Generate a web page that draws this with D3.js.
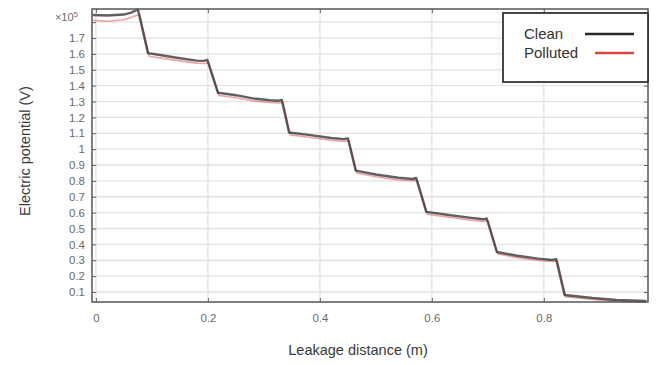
<!DOCTYPE html>
<html>
<head>
<meta charset="utf-8">
<script src="https://cdn.jsdelivr.net/npm/d3@7"></script>
<style>
  html, body { margin: 0; padding: 0; background: #fff; }
  svg { display: block; }
  text { font-family: "Liberation Sans", Arial, sans-serif; }
</style>
</head>
<body>
<svg id="chart" width="656" height="365"></svg>
<script>
// ---- data (potential in units of 1e5 V) ----
const seriesNames = ["Clean", "Polluted"];
const seriesColors = ["#2b2b2b", "#e04545"];
const cleanX = [-0.006, 0.02, 0.05, 0.063, 0.075, 0.093, 0.12, 0.15, 0.18, 0.193, 0.199, 0.218, 0.25, 0.28, 0.31, 0.326, 0.332, 0.345, 0.38, 0.42, 0.443, 0.45, 0.464, 0.5, 0.54, 0.565, 0.572, 0.59, 0.63, 0.67, 0.692, 0.698, 0.716, 0.75, 0.79, 0.815, 0.822, 0.837, 0.887, 0.93, 0.983];
const cleanV = [1.845, 1.842, 1.848, 1.86, 1.88, 1.605, 1.59, 1.573, 1.558, 1.556, 1.562, 1.355, 1.34, 1.32, 1.308, 1.305, 1.31, 1.105, 1.09, 1.07, 1.063, 1.068, 0.865, 0.84, 0.82, 0.812, 0.818, 0.605, 0.585, 0.567, 0.558, 0.563, 0.352, 0.33, 0.31, 0.302, 0.307, 0.081, 0.062, 0.05, 0.043];
const pollutedX = [-0.006, 0.02, 0.05, 0.065, 0.078, 0.095, 0.12, 0.15, 0.18, 0.195, 0.201, 0.22, 0.25, 0.28, 0.31, 0.328, 0.334, 0.347, 0.38, 0.42, 0.445, 0.452, 0.466, 0.5, 0.54, 0.567, 0.574, 0.592, 0.63, 0.67, 0.694, 0.7, 0.718, 0.75, 0.79, 0.817, 0.824, 0.839, 0.887, 0.93, 0.983];
const pollutedV = [1.812, 1.806, 1.815, 1.832, 1.85, 1.585, 1.572, 1.556, 1.542, 1.54, 1.546, 1.338, 1.324, 1.305, 1.294, 1.291, 1.296, 1.09, 1.075, 1.056, 1.049, 1.054, 0.85, 0.826, 0.806, 0.799, 0.804, 0.59, 0.571, 0.553, 0.545, 0.55, 0.339, 0.318, 0.299, 0.292, 0.297, 0.07, 0.053, 0.042, 0.036];
const xTicks = [0, 0.2, 0.4, 0.6, 0.8];
const yTicks = [0.1, 0.2, 0.3, 0.4, 0.5, 0.6, 0.7, 0.8, 0.9, 1, 1.1, 1.2, 1.3, 1.4, 1.5, 1.6, 1.7, 1.8];
const yTickLabels = ["0.1","0.2","0.3","0.4","0.5","0.6","0.7","0.8","0.9","1","1.1","1.2","1.3","1.4","1.5","1.6","1.7",""];
const xTitle = "Leakage distance (m)";
const yTitle = "Electric potential (V)";

// ---- layout ----
const L = 92, R = 648, T = 9, B = 302;
const svg = d3.select("#chart");
const x = d3.scaleLinear().domain([-0.007, 0.986]).range([L, R]);
const y = d3.scaleLinear().domain([0.037, 1.883]).range([B, T]);

// grid
const grid = svg.append("g");
grid.selectAll("line.h").data(yTicks).join("line")
  .attr("x1", L).attr("x2", R).attr("y1", d => y(d)).attr("y2", d => y(d))
  .attr("stroke", "#e2e2e2").attr("stroke-width", 1.3);
grid.selectAll("line.v").data(xTicks).join("line")
  .attr("y1", T).attr("y2", B).attr("x1", d => x(d)).attr("x2", d => x(d))
  .attr("stroke", "#e2e2e2").attr("stroke-width", 1.3);

// axes (inward ticks)
const axLeft = d3.axisLeft(y).tickValues(yTicks).tickSize(-4).tickPadding(7)
  .tickFormat((d, i) => yTickLabels[i]);
const gL = svg.append("g").attr("transform", `translate(${L},0)`).call(axLeft);
const axRight = d3.axisRight(y).tickValues(yTicks).tickSize(-4).tickFormat("");
const gR = svg.append("g").attr("transform", `translate(${R},0)`).call(axRight);
const axBottom = d3.axisBottom(x).tickValues(xTicks).tickSize(-4).tickPadding(12)
  .tickFormat(d3.format("~g"));
const gB = svg.append("g").attr("transform", `translate(0,${B})`).call(axBottom);
const axTop = d3.axisTop(x).tickValues(xTicks).tickSize(-4).tickFormat("");
const gT = svg.append("g").attr("transform", `translate(0,${T})`).call(axTop);
[gL, gR, gB, gT].forEach(g => {
  g.select(".domain").remove();
  g.selectAll(".tick line").attr("stroke", "#666").attr("stroke-width", 1);
  g.selectAll(".tick text").attr("fill", "#6a6a6a").attr("font-size", 11.5);
});

// series
const line = d3.line().x(d => x(d[0])).y(d => y(d[1]));
const pollutedData = d3.zip(pollutedX, pollutedV);
const cleanData = d3.zip(cleanX, cleanV);
svg.append("path").datum(pollutedData).attr("d", line)
  .attr("fill", "none").attr("stroke", seriesColors[1]).attr("stroke-width", 1.6)
  .attr("stroke-opacity", 0.5).attr("stroke-linejoin", "round");
svg.append("path").datum(cleanData).attr("d", line)
  .attr("fill", "none").attr("stroke", seriesColors[0]).attr("stroke-width", 2.4)
  .attr("stroke-opacity", 0.75).attr("stroke-linejoin", "round");

// frame
svg.append("rect").attr("x", L).attr("y", T).attr("width", R - L).attr("height", B - T)
  .attr("fill", "none").attr("stroke", "#555").attr("stroke-width", 1.5);

// exponent label
const ex = svg.append("text").attr("x", 78).attr("y", 21).attr("text-anchor", "end")
  .attr("fill", "#6a6a6a").attr("font-size", 11);
ex.append("tspan").text("×10");
ex.append("tspan").attr("dy", -4).attr("font-size", 8).text("5");

// titles
svg.append("text").attr("x", 358).attr("y", 355).attr("text-anchor", "middle")
  .attr("fill", "#3a3a3a").attr("font-size", 14.5).text(xTitle);
svg.append("text").attr("transform", "translate(30,151) rotate(-90)")
  .attr("text-anchor", "middle").attr("fill", "#3a3a3a").attr("font-size", 14.5).text(yTitle);

// legend
const lg = svg.append("g");
lg.append("rect").attr("x", 503).attr("y", 13).attr("width", 145).attr("height", 69)
  .attr("fill", "#fff").attr("stroke", "#333").attr("stroke-width", 1.8);
const legendRows = [{name: seriesNames[0], color: seriesColors[0], y: 34, x1: 585},
                    {name: seriesNames[1], color: seriesColors[1], y: 53, x1: 595}];
legendRows.forEach(r => {
  lg.append("text").attr("x", 524).attr("y", r.y + 5).attr("fill", "#333")
    .attr("font-size", 15).text(r.name);
  lg.append("line").attr("x1", r.x1).attr("x2", 634).attr("y1", r.y).attr("y2", r.y)
    .attr("stroke", r.color).attr("stroke-width", 2.5);
});
</script>
</body>
</html>
